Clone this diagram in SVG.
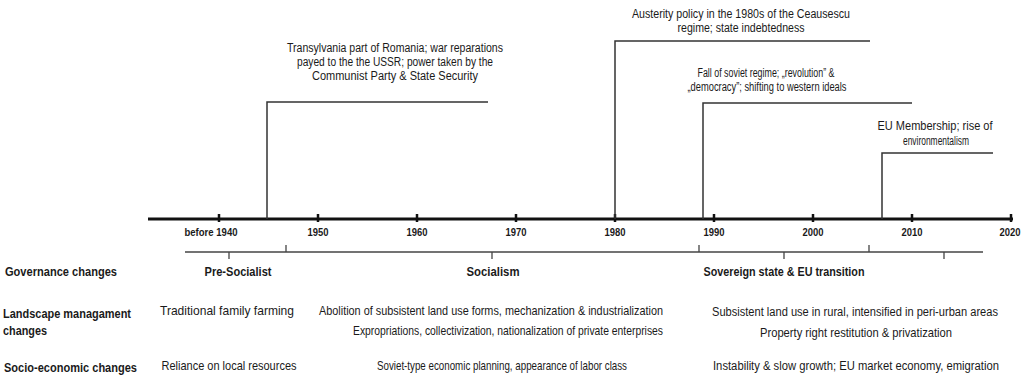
<svg xmlns="http://www.w3.org/2000/svg" width="1024" height="380" viewBox="0 0 1024 380">
<style>
text{font-family:"Liberation Sans",Arial,sans-serif;fill:#1a1a1a;}
.n{font-size:13px;text-anchor:middle;}
.s{font-size:12px;}
.a{font-size:12.5px;text-anchor:middle;}
.b{font-size:12.5px;font-weight:bold;}
.bc{font-size:12.5px;font-weight:bold;text-anchor:middle;}
.y{font-size:11px;font-weight:bold;text-anchor:middle;}
.ev{stroke:#333;stroke-width:1.5;fill:none;}
.axis{stroke:#111;stroke-width:3;fill:none;}
.tk{stroke:#111;stroke-width:2.5;}
.pl{stroke:#444;stroke-width:1.3;fill:none;}
</style>
<rect width="1024" height="380" fill="#fff"/>
<g id="timeline-axis">
<line class="axis" x1="148" y1="219" x2="1013" y2="219"/>
<g class="tk">
<line x1="219" y1="214" x2="219" y2="222"/>
<line x1="318" y1="214" x2="318" y2="222"/>
<line x1="417" y1="214" x2="417" y2="222"/>
<line x1="516" y1="214" x2="516" y2="222"/>
<line x1="615" y1="214" x2="615" y2="222"/>
<line x1="714" y1="214" x2="714" y2="222"/>
<line x1="813" y1="214" x2="813" y2="222"/>
<line x1="912" y1="214" x2="912" y2="222"/>
<line x1="1011" y1="214" x2="1011" y2="222"/>
</g>
<text class="y" x="211" y="236" textLength="53" lengthAdjust="spacingAndGlyphs">before 1940</text>
<text class="y" x="318" y="236" textLength="21" lengthAdjust="spacingAndGlyphs">1950</text>
<text class="y" x="417" y="236" textLength="21" lengthAdjust="spacingAndGlyphs">1960</text>
<text class="y" x="516" y="236" textLength="21" lengthAdjust="spacingAndGlyphs">1970</text>
<text class="y" x="615" y="236" textLength="21" lengthAdjust="spacingAndGlyphs">1980</text>
<text class="y" x="714" y="236" textLength="21" lengthAdjust="spacingAndGlyphs">1990</text>
<text class="y" x="813" y="236" textLength="21" lengthAdjust="spacingAndGlyphs">2000</text>
<text class="y" x="912" y="236" textLength="21" lengthAdjust="spacingAndGlyphs">2010</text>
<text class="y" x="1010" y="236" textLength="21" lengthAdjust="spacingAndGlyphs">2020</text>
</g>
<g id="connectors">
<polyline class="ev" points="267,219 267,102 488,102"/>
<polyline class="ev" points="615,219 615,41 870,41"/>
<polyline class="ev" points="703,219 703,103 912,103"/>
<polyline class="ev" points="882,219 882,153 993,153"/>
</g>
<g id="event-1945">
<text class="a" x="395" y="52" textLength="216" lengthAdjust="spacingAndGlyphs">Transylvania  part of Romania;  war reparations</text>
<text class="a" x="395" y="66" textLength="196" lengthAdjust="spacingAndGlyphs">payed  to the the USSR; power taken by the</text>
<text class="a" x="395" y="80" textLength="166" lengthAdjust="spacingAndGlyphs">Communist  Party &amp;  State Security</text>
</g>
<g id="event-1980">
<text class="a" x="741" y="18" textLength="218" lengthAdjust="spacingAndGlyphs">Austerity policy in the 1980s of the Ceausescu</text>
<text class="a" x="741" y="32" textLength="127" lengthAdjust="spacingAndGlyphs">regime; state indebtedness</text>
</g>
<g id="event-1989">
<text class="a" x="766" y="77" textLength="137" lengthAdjust="spacingAndGlyphs">Fall of soviet  regime; „revolution” &amp;</text>
<text class="a" x="767" y="91" textLength="159" lengthAdjust="spacingAndGlyphs">„democracy”; shifting to western ideals</text>
</g>
<g id="event-2007">
<text class="a" x="935" y="130" textLength="115" lengthAdjust="spacingAndGlyphs">EU Membership;  rise of</text>
<text class="a" x="936" y="145" textLength="66" lengthAdjust="spacingAndGlyphs">environmentalism</text>
</g>
<g id="period-line">
<line class="pl" x1="185" y1="252" x2="983" y2="252"/>
<line class="pl" x1="286" y1="252" x2="286" y2="245"/>
<line class="pl" x1="699" y1="252" x2="699" y2="245"/>
<line class="pl" x1="869" y1="252" x2="869" y2="245"/>
<line class="pl" x1="229" y1="252" x2="229" y2="259"/>
<line class="pl" x1="492" y1="252" x2="492" y2="259"/>
<line class="pl" x1="784" y1="252" x2="784" y2="259"/>
<line class="pl" x1="944" y1="252" x2="944" y2="259"/>
</g>
<g id="row-governance">
<text class="b" x="5" y="276" textLength="112" lengthAdjust="spacingAndGlyphs">Governance changes</text>
<text class="bc" x="238" y="276" textLength="67" lengthAdjust="spacingAndGlyphs">Pre-Socialist</text>
<text class="bc" x="493" y="276" textLength="53" lengthAdjust="spacingAndGlyphs">Socialism</text>
<text class="bc" x="784" y="276" textLength="161" lengthAdjust="spacingAndGlyphs">Sovereign state &amp; EU transition</text>
</g>
<g id="row-landscape">
<text class="b" x="3" y="318" textLength="128" lengthAdjust="spacingAndGlyphs">Landscape managament</text>
<text class="b" x="3" y="335" textLength="44" lengthAdjust="spacingAndGlyphs">changes</text>
<text class="n" x="227" y="315" textLength="134" lengthAdjust="spacingAndGlyphs">Traditional family farming</text>
<text class="n" x="491" y="315" textLength="344" lengthAdjust="spacingAndGlyphs">Abolition of subsistent land use forms, mechanization &amp; industrialization</text>
<text class="n" x="508" y="335" textLength="310" lengthAdjust="spacingAndGlyphs">Expropriations, collectivization, nationalization of private enterprises</text>
<text class="n s" x="855" y="316" textLength="286" lengthAdjust="spacingAndGlyphs">Subsistent land use in rural, intensified in peri-urban areas</text>
<text class="n" x="856" y="337" textLength="192" lengthAdjust="spacingAndGlyphs">Property right restitution &amp; privatization</text>
</g>
<g id="row-socio">
<text class="b" x="4" y="372" textLength="133" lengthAdjust="spacingAndGlyphs">Socio-economic changes</text>
<text class="n" x="229" y="370" textLength="135" lengthAdjust="spacingAndGlyphs">Reliance on local resources</text>
<text class="n" x="502" y="370" textLength="250" lengthAdjust="spacingAndGlyphs">Soviet-type economic planning, appearance of labor class</text>
<text class="n s" x="856" y="370" textLength="286" lengthAdjust="spacingAndGlyphs">Instability &amp; slow growth; EU market economy, emigration</text>
</g>
</svg>
